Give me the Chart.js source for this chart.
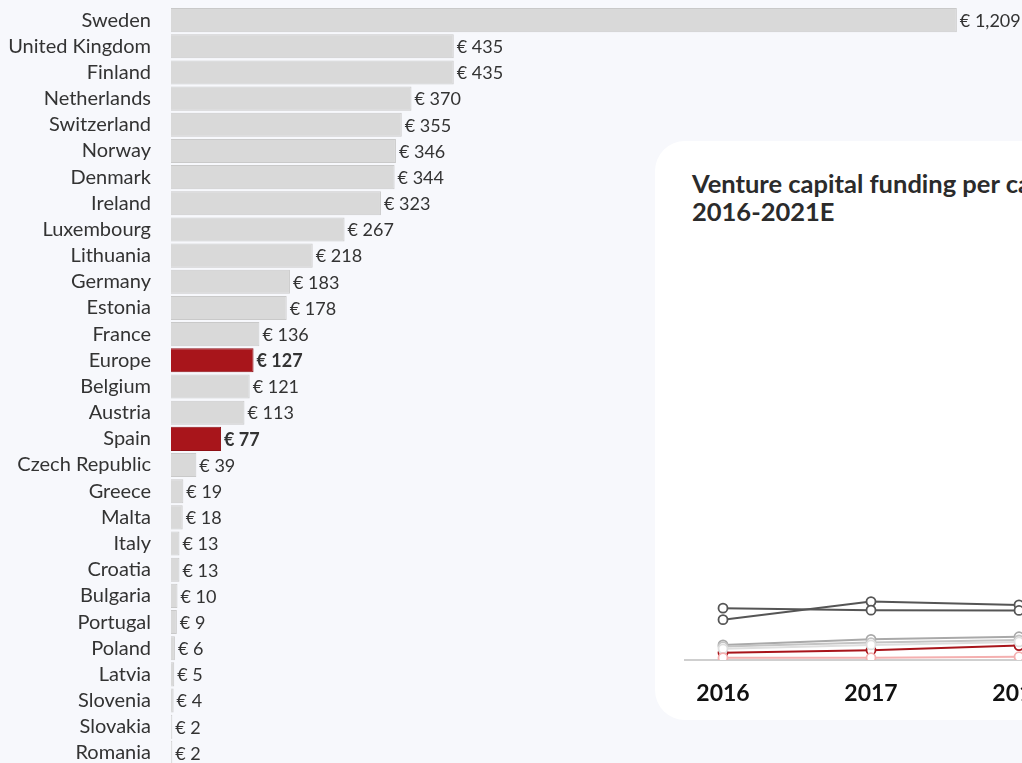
<!DOCTYPE html>
<html lang="en">
  <head>
    <meta charset="UTF-8" />
    <title>Venture capital funding per capita</title>
    <script src="https://cdn.jsdelivr.net/npm/chart.js"></script>
    <style>
      :root {
        --page-bg: #f7f8fc;
        --card-bg: #ffffff;
        --text-color: #333333;
      }

      body {
        margin: 0;
        width: 1022px;
        height: 763px;
        overflow: hidden;
        position: relative;
        background-color: var(--page-bg);
        font-family: Lato, "Noto Sans", sans-serif;
        color: var(--text-color);
      }

      #barChart {
        position: absolute;
        left: 0;
        top: 0;
      }

      .card {
        position: absolute;
        left: 655px;
        top: 141px;
        width: 700px;
        height: 579px;
        background-color: var(--card-bg);
        border-radius: 30px;
      }

      .card h2 {
        margin: 0;
        position: absolute;
        left: 37px;
        top: 28px;
        width: 640px;
        font-size: 25.5px;
        line-height: 28px;
        font-weight: 700;
        color: #2b2b2b;
      }

      #lineChart {
        position: absolute;
        left: 684px;
        top: 250px;
      }
    </style>
  </head>
  <body>
    <canvas id="barChart" width="1022" height="772"></canvas>

    <div class="card">
      <h2>Venture capital funding per capita in Europe<br />2016-2021E</h2>
    </div>
    <canvas id="lineChart" width="800" height="470"></canvas>

    <script>
      // per-capita VC funding 2021E, in euro
      const countries = [
        "Sweden", "United Kingdom", "Finland", "Netherlands", "Switzerland",
        "Norway", "Denmark", "Ireland", "Luxembourg", "Lithuania", "Germany",
        "Estonia", "France", "Europe", "Belgium", "Austria", "Spain",
        "Czech Republic", "Greece", "Malta", "Italy", "Croatia", "Bulgaria",
        "Portugal", "Poland", "Latvia", "Slovenia", "Slovakia", "Romania",
      ];
      const perCapita = [
        1209, 435, 435, 370, 355, 346, 344, 323, 267, 218, 183, 178, 136, 127,
        121, 113, 77, 39, 19, 18, 13, 13, 10, 9, 6, 5, 4, 2, 2,
      ];
      const highlighted = ["Europe", "Spain"];

      // line chart, only the first three years are visible
      const years = [2016, 2017, 2018];
      const yearLabels = { 2016: "2016", 2017: "2017", 2018: "2018", 2019: "2019", 2020: "2020", 2021: "2021E" };
      const darkA = [158, 152, 151];
      const darkB = [123, 178, 168];
      const greyA = [46, 63, 71];
      const greyB = [41, 53, 61];
      const greyC = [34, 46, 55];
      const europeLine = [22, 30, 44];
      const spainLine = [7, 7, 10];

      const X_MAX = 1300;
      const Y_MAX = 1250;

      const grey = "#d9d9d9";
      const red = "#a8151b";

      const valueLabels = {
        id: "valueLabels",
        afterDatasetsDraw(chart) {
          const ctx = chart.ctx;
          const meta = chart.getDatasetMeta(0);
          ctx.save();
          ctx.textBaseline = "middle";
          ctx.fillStyle = "#333";
          meta.data.forEach((bar, i) => {
            const bold = highlighted.includes(countries[i]);
            ctx.font = (bold ? "700 " : "400 ") + "18px Lato, sans-serif";
            const text = "€ " + perCapita[i].toLocaleString("en-US");
            ctx.fillText(text, bar.x + 3, bar.y + 1);
          });
          ctx.restore();
        },
      };

      new Chart(document.getElementById("barChart"), {
        type: "bar",
        data: {
          labels: countries,
          datasets: [
            {
              data: perCapita,
              backgroundColor: countries.map((c) => (highlighted.includes(c) ? red : grey)),
              borderColor: countries.map((c) => (highlighted.includes(c) ? "#8e1016" : "#c9c9c9")),
              borderWidth: 1,
              borderSkipped: "left",
              barPercentage: 1,
              categoryPercentage: 0.92,
            },
          ],
        },
        options: {
          indexAxis: "y",
          responsive: false,
          animation: false,
          layout: { padding: { top: 7, right: 6, bottom: 6, left: 0 } },
          plugins: { legend: { display: false }, tooltip: { enabled: false } },
          scales: {
            x: { display: false, min: 0, max: X_MAX },
            y: {
              // fixed label column, and no extra room above/below for the labels
              afterFit(scale) {
                scale.width = 171;
                scale.paddingTop = 0;
                scale.paddingBottom = 0;
              },
              grid: { display: false, drawTicks: false },
              border: { display: false },
              ticks: {
                autoSkip: false,
                padding: 20,
                color: "#333",
                font: { family: "Lato", size: 20 },
              },
            },
          },
        },
        plugins: [valueLabels],
      });

      const lineSet = (data, color) => ({
        data: data.map((v, i) => ({ x: years[i], y: v })),
        borderColor: color,
        borderWidth: 2,
        pointBackgroundColor: "#fff",
        pointBorderColor: color,
        pointBorderWidth: 1.8,
        pointRadius: 4.5,
      });

      new Chart(document.getElementById("lineChart"), {
        type: "line",
        data: {
          datasets: [
            lineSet(spainLine, "#f4b0b0"),
            lineSet(greyC, "#dedede"),
            lineSet(greyB, "#c4c4c4"),
            lineSet(greyA, "#a9a9a9"),
            lineSet(europeLine, red),
            lineSet(darkA, "#555"),
            lineSet(darkB, "#555"),
          ],
        },
        options: {
          responsive: false,
          animation: false,
          layout: { padding: 0, autoPadding: false },
          plugins: { legend: { display: false }, tooltip: { enabled: false } },
          scales: {
            x: {
              type: "linear",
              min: 2016 - 39 / 148,
              max: 2016 - 39 / 148 + 800 / 148,
              afterFit(scale) {
                scale.height = 60;
                scale.paddingLeft = 0;
                scale.paddingRight = 0;
              },
              grid: { display: false, drawTicks: false },
              border: { display: true, color: "#cfcfcf", width: 2 },
              ticks: {
                stepSize: 1,
                includeBounds: false,
                maxRotation: 0,
                padding: 20,
                color: "#111",
                font: { family: "Lato", size: 23, weight: "700" },
                callback: (v) => yearLabels[v] || "",
              },
            },
            y: { display: false, min: 0, max: Y_MAX },
          },
        },
      });
    </script>
  </body>
</html>
